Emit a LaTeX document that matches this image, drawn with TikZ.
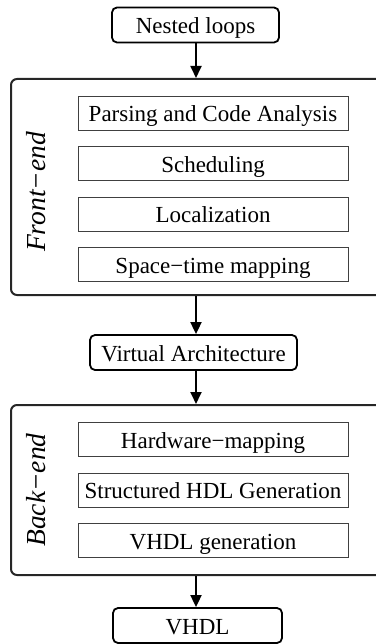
\documentclass[tikz,border=0pt]{standalone}
\usepackage{fontspec}
\setmainfont{Liberation Serif}
\usetikzlibrary{arrows.meta}
\begin{document}
\begin{tikzpicture}[x=1pt,y=-1pt,
  term/.style={draw=black, line width=1.8pt, rounded corners=5pt, inner sep=0pt, minimum height=35pt, text height=17.5pt, text depth=0pt, font=\fontsize{23}{25}\selectfont},
  stepbox/.style={draw=black!75, line width=0.9pt, inner sep=0pt, minimum width=270pt, minimum height=34pt, text height=17.5pt, text depth=0pt, font=\fontsize{23}{25}\selectfont},
  frame/.style={draw=black!85, line width=2pt, rounded corners=6pt, inner sep=0pt, minimum width=389pt},
  flow/.style={line width=1.8pt, -{Triangle[length=12pt,width=11pt]}},
  side/.style={rotate=90, font=\fontsize{27.5}{30}\itshape\selectfont}
]
\useasboundingbox (0,0) rectangle (375,644);
\node[term, minimum width=167pt] (nl) at (195.5,25) {Nested loops};
\node[frame, minimum height=216pt] (fe) at (205.5,187) {};
\node[side] (fel) at (36,192) {Front−end};
\node[stepbox] (p1) at (213,113) {Parsing and Code Analysis};
\node[stepbox] (p2) at (213,163.5) {Scheduling};
\node[stepbox] (p3) at (213,214) {Localization};
\node[stepbox] (p4) at (213,264.5) {Space−time mapping};
\node[term, minimum width=207pt] (va) at (193.5,352.5) {Virtual Architecture};
\node[frame, minimum height=170pt] (be) at (205.5,490) {};
\node[side] (bel) at (36,490) {Back−end};
\node[stepbox] (h1) at (213,439.5) {Hardware−mapping};
\node[stepbox] (h2) at (213,490) {Structured HDL Generation};
\node[stepbox] (h3) at (213,540.5) {VHDL generation};
\node[term, minimum width=169pt] (vh) at (197.5,625.5) {VHDL};
\draw[flow] (nl.south -| 196,0) -- (fe.north -| 196,0);
\draw[flow] (fe.south -| 196,0) -- (va.north -| 196,0);
\draw[flow] (va.south -| 196,0) -- (be.north -| 196,0);
\draw[flow] (be.south -| 196,0) -- (vh.north -| 196,0);
\end{tikzpicture}
\end{document}
